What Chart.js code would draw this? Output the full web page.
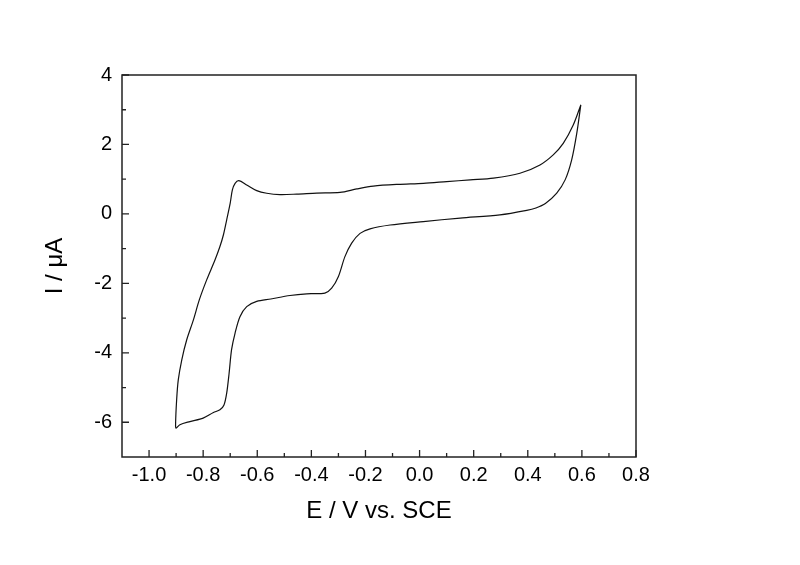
<!DOCTYPE html>
<html><head><meta charset="utf-8">
<script src="https://cdn.jsdelivr.net/npm/chart.js@4/dist/chart.umd.min.js"></script>
<style>html,body{margin:0;padding:0;background:#fff}#wrap{width:800px;height:565px}</style>
</head><body><div id="wrap"><canvas id="c" width="800" height="565"></canvas></div>
<script>
// Reverse (upper) branch: from the switching potential 0.6 V down to -0.9 V
const upperE = [0.596, 0.568, 0.531, 0.494, 0.445, 0.371, 0.273, 0.187, 0.100, 0.014, -0.080, -0.171, -0.232, -0.294, -0.380, -0.454, -0.516, -0.565, -0.602, -0.639, -0.668, -0.682, -0.692, -0.700, -0.713, -0.725, -0.738, -0.756, -0.787, -0.814, -0.836, -0.861, -0.879, -0.892, -0.898, -0.902, -0.900];
const upperI = [3.14, 2.56, 2.03, 1.70, 1.41, 1.17, 1.03, 0.98, 0.93, 0.88, 0.85, 0.80, 0.72, 0.62, 0.60, 0.57, 0.556, 0.595, 0.67, 0.835, 0.958, 0.88, 0.69, 0.31, -0.17, -0.60, -0.94, -1.32, -1.90, -2.47, -3.05, -3.63, -4.20, -4.78, -5.35, -6.07, -6.17];
// Forward (lower) branch: from -0.9 V back up to 0.6 V
const lowerE = [-0.886, -0.849, -0.800, -0.762, -0.738, -0.723, -0.713, -0.704, -0.695, -0.682, -0.664, -0.639, -0.602, -0.550, -0.479, -0.417, -0.350, -0.325, -0.300, -0.276, -0.251, -0.220, -0.183, -0.109, 0.014, 0.150, 0.297, 0.396, 0.430, 0.465, 0.507, 0.538, 0.562, 0.581, 0.596];
const lowerI = [-6.07, -5.98, -5.88, -5.72, -5.64, -5.50, -5.16, -4.58, -3.91, -3.43, -2.96, -2.67, -2.52, -2.45, -2.35, -2.30, -2.28, -2.14, -1.80, -1.23, -0.84, -0.56, -0.43, -0.32, -0.22, -0.12, -0.03, 0.10, 0.17, 0.30, 0.60, 0.98, 1.55, 2.32, 3.14];

const xMajorTicks = [-1.0, -0.8, -0.6, -0.4, -0.2, 0.0, 0.2, 0.4, 0.6, 0.8];
const xMinorTicks = [-0.9, -0.7, -0.5, -0.3, -0.1, 0.1, 0.3, 0.5, 0.7];
const yMajorTicks = [-6, -4, -2, 0, 2, 4];
const yMinorTicks = [-5, -3, -1, 1, 3];

const points = upperE.map((e, i) => ({x: e, y: upperI[i]}))
  .concat(lowerE.map((e, i) => ({x: e, y: lowerI[i]})));

const frameTicks = {
  id: 'frameTicks',
  afterDatasetsDraw(chart) {
    const {ctx, chartArea: a, scales: {x, y}} = chart;
    ctx.save();
    ctx.strokeStyle = '#222';
    ctx.lineWidth = 1.5;
    ctx.strokeRect(a.left, a.top, a.right - a.left, a.bottom - a.top);
    ctx.lineWidth = 1.3;
    ctx.beginPath();
    xMajorTicks.forEach(v => { const p = x.getPixelForValue(v); ctx.moveTo(p, a.bottom); ctx.lineTo(p, a.bottom - 7); });
    xMinorTicks.forEach(v => { const p = x.getPixelForValue(v); ctx.moveTo(p, a.bottom); ctx.lineTo(p, a.bottom - 4); });
    yMajorTicks.forEach(v => { const p = y.getPixelForValue(v); ctx.moveTo(a.left, p); ctx.lineTo(a.left + 7, p); });
    yMinorTicks.forEach(v => { const p = y.getPixelForValue(v); ctx.moveTo(a.left, p); ctx.lineTo(a.left + 4, p); });
    ctx.stroke();
    ctx.restore();
  }
};

const FONT = '"Liberation Sans", Arial, sans-serif';

new Chart(document.getElementById('c'), {
  type: 'scatter',
  data: {
    datasets: [{
      data: points,
      showLine: true,
      pointRadius: 0,
      borderColor: '#111',
      borderWidth: 1.2,
      tension: 0.3,
      fill: false
    }]
  },
  options: {
    responsive: false,
    animation: false,
    devicePixelRatio: 1,
    layout: {padding: {left: 0, top: 75, right: 164, bottom: 0}},
    plugins: {legend: {display: false}, tooltip: {enabled: false}},
    scales: {
      x: {
        type: 'linear', min: -1.1, max: 0.8,
        grid: {display: false, drawTicks: false},
        border: {display: false},
        afterBuildTicks: s => { s.ticks = xMajorTicks.map(v => ({value: v})); },
        afterFit: s => { s.height = 108; },
        ticks: {
          padding: 6, color: '#000', maxRotation: 0, autoSkip: false,
          font: {family: FONT, size: 20},
          callback: v => Number(v).toFixed(1)
        },
        title: {
          display: true, text: 'E / V vs. SCE', color: '#000',
          font: {family: FONT, size: 24}, padding: {top: 0, bottom: 39}
        }
      },
      y: {
        type: 'linear', min: -7, max: 4,
        grid: {display: false, drawTicks: false},
        border: {display: false},
        afterBuildTicks: s => { s.ticks = yMajorTicks.map(v => ({value: v})); },
        afterFit: s => { s.width = 122; },
        ticks: {
          padding: 10, color: '#000', autoSkip: false,
          font: {family: FONT, size: 20},
          callback: v => String(v)
        },
        title: {
          display: true, text: 'I / μA', color: '#000',
          font: {family: FONT, size: 24}, padding: {top: 41, bottom: 0}
        }
      }
    }
  },
  plugins: [frameTicks]
});
</script>
</body></html>
